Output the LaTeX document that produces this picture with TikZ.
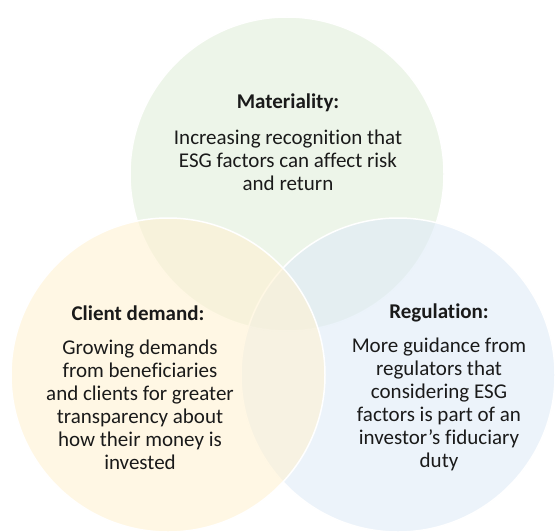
\documentclass[tikz,border=0pt]{standalone}
\usepackage{fontspec}
\setmainfont{Carlito}[Ligatures=NoCommon]
\usepackage{tikz}
\usetikzlibrary{positioning}

\definecolor{matgreen}{RGB}{225,238,218}
\definecolor{regblue}{RGB}{223,235,247}
\definecolor{cliyellow}{RGB}{255,242,210}
\definecolor{txtgray}{RGB}{26,26,26}

\begin{document}
\begin{tikzpicture}[x=1pt, y=1pt]
		\tikzstyle{Circle}	= [circle, draw=white, line width=1.5pt, minimum size=314pt, inner sep=0pt, fill opacity=0.6]
		\tikzstyle{Head}	= [font=\fontsize{21}{23}\selectfont\bfseries, text=txtgray, inner sep=0pt]
		\tikzstyle{Body}	= [align=center, font=\fontsize{21}{23}\selectfont, text=txtgray, inner sep=0pt]

		\useasboundingbox (0,0) rectangle (556,531);

		\node (mat) at (287, 357) [Circle][fill=matgreen] {};
		\node (reg) at (398, 156) [Circle][fill=regblue] {};
		\node (cli) at (168, 156) [Circle][fill=cliyellow] {};

		\node (matHead) at (288, 428) [Head] {Materiality:};
		\node (matBody) at (288, 371) [Body] {Increasing recognition that\\ESG factors can affect risk\\and return};

		\node (cliHead) at (138, 218) [Head] {Client demand:};
		\node (cliBody) at (140, 126.5) [Body] {Growing demands\\from beneficiaries\\and clients for greater\\transparency about\\how their money is\\invested};

		\node (regHead) at (439, 218) [Head] {Regulation:};
		\node (regBody) at (439, 126.5) [Body] {More guidance from\\regulators that\\considering ESG\\factors is part of an\\investor’s fiduciary\\duty};
	\end{tikzpicture}
\end{document}
